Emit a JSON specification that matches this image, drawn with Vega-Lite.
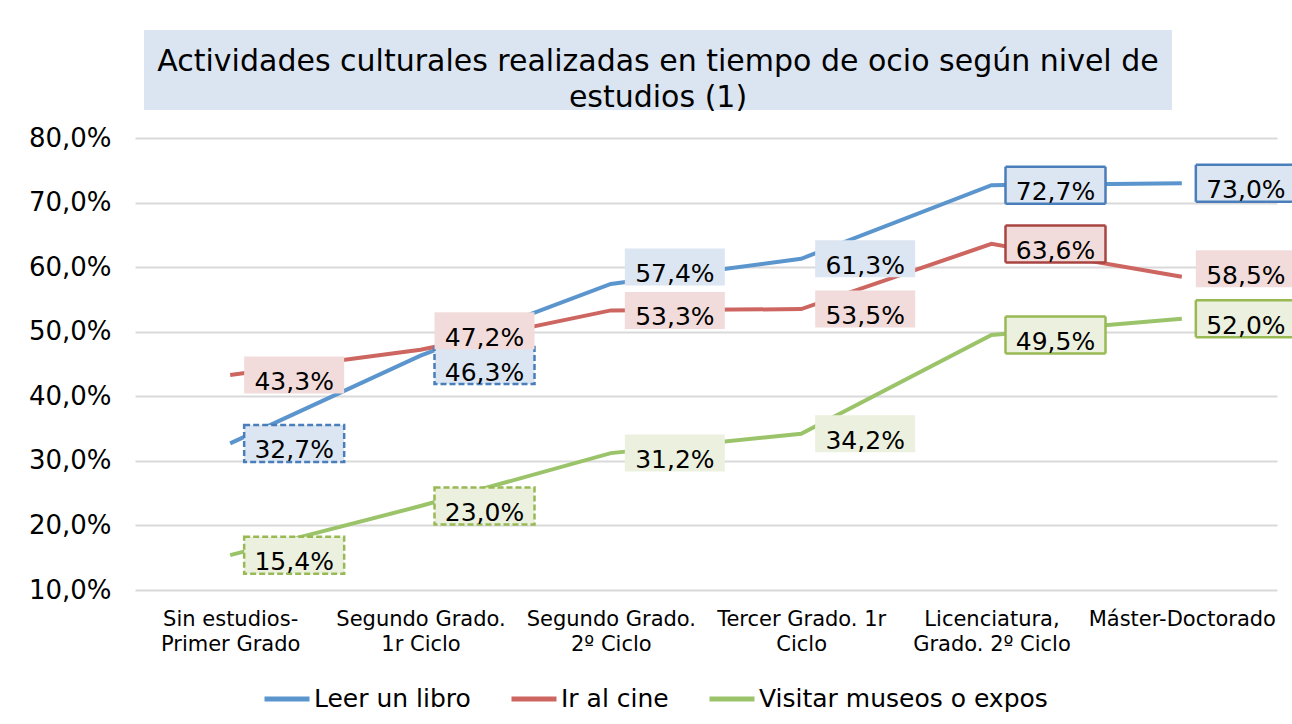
{
  "$schema": "https://vega.github.io/schema/vega-lite/v6.json",
  "background": "white",
  "padding": {"left": 28, "top": 30, "right": 0, "bottom": 0},
  "config": {
    "font": "DejaVu Sans",
    "view": {"stroke": null},
    "locale": {"number": {"decimal": ",", "thousands": ".", "grouping": [3], "currency": ["", " €"]}}
  },
  "vconcat": [
    {
      "hconcat": [
        {
          "width": 1,
          "height": 80,
          "data": {"values": [{}]},
          "mark": {"type": "text", "text": "", "opacity": 0}
        },
        {
          "width": 1028,
          "height": 80,
          "view": {"fill": "#dbe5f1", "stroke": null},
          "data": {"values": [{}]},
          "mark": {
            "type": "text",
            "text": ["Actividades culturales realizadas en tiempo de ocio según nivel de", "estudios (1)"],
            "fontSize": 30,
            "lineHeight": 36,
            "baseline": "middle",
            "align": "center",
            "color": "#000000",
            "dy": -8
          }
        }
      ],
      "spacing": 8
    },
    {
      "width": 1142,
      "height": 452,
      "data": {
        "values": [
          {"nivel": "Sin estudios-Primer Grado", "serie": "Leer un libro", "valor": 0.327},
          {"nivel": "Segundo Grado. 1r Ciclo", "serie": "Leer un libro", "valor": 0.463},
          {"nivel": "Segundo Grado. 2º Ciclo", "serie": "Leer un libro", "valor": 0.574},
          {"nivel": "Tercer Grado. 1r Ciclo", "serie": "Leer un libro", "valor": 0.613},
          {"nivel": "Licenciatura, Grado. 2º Ciclo", "serie": "Leer un libro", "valor": 0.727},
          {"nivel": "Máster-Doctorado", "serie": "Leer un libro", "valor": 0.730},
          {"nivel": "Sin estudios-Primer Grado", "serie": "Ir al cine", "valor": 0.433},
          {"nivel": "Segundo Grado. 1r Ciclo", "serie": "Ir al cine", "valor": 0.472},
          {"nivel": "Segundo Grado. 2º Ciclo", "serie": "Ir al cine", "valor": 0.533},
          {"nivel": "Tercer Grado. 1r Ciclo", "serie": "Ir al cine", "valor": 0.535},
          {"nivel": "Licenciatura, Grado. 2º Ciclo", "serie": "Ir al cine", "valor": 0.636},
          {"nivel": "Máster-Doctorado", "serie": "Ir al cine", "valor": 0.585},
          {"nivel": "Sin estudios-Primer Grado", "serie": "Visitar museos o expos", "valor": 0.154},
          {"nivel": "Segundo Grado. 1r Ciclo", "serie": "Visitar museos o expos", "valor": 0.230},
          {"nivel": "Segundo Grado. 2º Ciclo", "serie": "Visitar museos o expos", "valor": 0.312},
          {"nivel": "Tercer Grado. 1r Ciclo", "serie": "Visitar museos o expos", "valor": 0.342},
          {"nivel": "Licenciatura, Grado. 2º Ciclo", "serie": "Visitar museos o expos", "valor": 0.495},
          {"nivel": "Máster-Doctorado", "serie": "Visitar museos o expos", "valor": 0.520}
        ]
      },
      "encoding": {
        "x": {
          "field": "nivel",
          "type": "nominal",
          "sort": null,
          "scale": {"type": "point", "padding": 0.5},
          "axis": {
            "title": null,
            "labelAngle": 0,
            "labelFontSize": 21,
            "labelLineHeight": 25,
            "labelPadding": 18,
            "labelColor": "#000000",
            "labelLimit": 300,
            "ticks": false,
            "domain": false,
            "grid": false,
            "labelExpr": "datum.value == 'Sin estudios-Primer Grado' ? ['Sin estudios-','Primer Grado'] : datum.value == 'Segundo Grado. 1r Ciclo' ? ['Segundo Grado.','1r Ciclo'] : datum.value == 'Segundo Grado. 2º Ciclo' ? ['Segundo Grado.','2º Ciclo'] : datum.value == 'Tercer Grado. 1r Ciclo' ? ['Tercer Grado. 1r','Ciclo'] : datum.value == 'Licenciatura, Grado. 2º Ciclo' ? ['Licenciatura,','Grado. 2º Ciclo'] : datum.label"
          }
        },
        "y": {
          "field": "valor",
          "type": "quantitative",
          "scale": {"domain": [0.1, 0.8], "nice": false, "zero": false},
          "axis": {
            "title": null,
            "values": [0.1, 0.2, 0.3, 0.4, 0.5, 0.6, 0.7, 0.8],
            "format": ".1%",
            "labelFontSize": 26,
            "labelPadding": 24,
            "labelColor": "#000000",
            "ticks": false,
            "domain": false,
            "gridColor": "#d9d9d9",
            "gridWidth": 2
          }
        }
      },
      "layer": [
        {
          "mark": {"type": "line", "strokeWidth": 4},
          "encoding": {
            "color": {
              "field": "serie",
              "type": "nominal",
              "scale": {"domain": ["Leer un libro", "Ir al cine", "Visitar museos o expos"], "range": ["#5b95cd", "#cd6661", "#9bc46a"]},
              "legend": {
                "title": null,
                "orient": "none",
                "direction": "horizontal",
                "legendX": 127,
                "legendY": 644,
                "padding": 0,
                "symbolType": "stroke",
                "symbolSize": 2025,
                "symbolStrokeWidth": 5,
                "labelFontSize": 25,
                "labelColor": "#000000",
                "labelOffset": 2,
                "columnPadding": 30,
                "labelLimit": 400
              }
            }
          }
        },
        {
          "mark": {
            "type": "point",
            "shape": "M-1,-0.37L1,-0.37L1,0.37L-1,0.37Z",
            "size": 10000,
            "filled": true,
            "opacity": 1,
            "strokeWidth": 2.5,
            "xOffset": 64,
            "yOffset": {"expr": "datum.serie=='Leer un libro' && datum.nivel=='Segundo Grado. 1r Ciclo' ? 10 : datum.serie=='Ir al cine' && datum.nivel=='Segundo Grado. 1r Ciclo' ? -19 : datum.serie=='Leer un libro' && datum.nivel=='Segundo Grado. 2º Ciclo' ? -17 : datum.serie=='Ir al cine' && datum.nivel=='Máster-Doctorado' ? -8 : 0"}
          },
          "encoding": {
            "fill": {
              "field": "serie",
              "type": "nominal",
              "scale": {"domain": ["Leer un libro", "Ir al cine", "Visitar museos o expos"], "range": ["#dce6f2", "#f2dcdb", "#ebf1de"]},
              "legend": null
            },
            "stroke": {
              "condition": {
                "test": "!((datum.serie != 'Ir al cine' && (datum.nivel == 'Sin estudios-Primer Grado' || datum.nivel == 'Segundo Grado. 1r Ciclo' || datum.nivel == 'Licenciatura, Grado. 2º Ciclo' || datum.nivel == 'Máster-Doctorado')) || (datum.serie == 'Ir al cine' && datum.nivel == 'Licenciatura, Grado. 2º Ciclo'))",
                "value": "transparent"
              },
              "field": "serie",
              "type": "nominal",
              "scale": {"domain": ["Leer un libro", "Ir al cine", "Visitar museos o expos"], "range": ["#4a7ebb", "#a94541", "#98b954"]},
              "legend": null
            },
            "strokeDash": {
              "condition": {
                "test": "datum.serie != 'Ir al cine' && (datum.nivel == 'Sin estudios-Primer Grado' || datum.nivel == 'Segundo Grado. 1r Ciclo')",
                "value": [6, 3]
              },
              "value": [1, 0]
            }
          }
        },
        {
          "mark": {
            "type": "text",
            "fontSize": 25,
            "align": "center",
            "baseline": "alphabetic",
            "color": "#000000",
            "xOffset": 64,
            "dy": {"expr": "15 + (datum.serie=='Leer un libro' && datum.nivel=='Segundo Grado. 1r Ciclo' ? 10 : datum.serie=='Ir al cine' && datum.nivel=='Segundo Grado. 1r Ciclo' ? -19 : datum.serie=='Leer un libro' && datum.nivel=='Segundo Grado. 2º Ciclo' ? -17 : datum.serie=='Ir al cine' && datum.nivel=='Máster-Doctorado' ? -8 : 0)"}
          },
          "encoding": {
            "text": {"field": "valor", "type": "quantitative", "format": ".1%"}
          }
        }
      ]
    }
  ],
  "spacing": 12
}
